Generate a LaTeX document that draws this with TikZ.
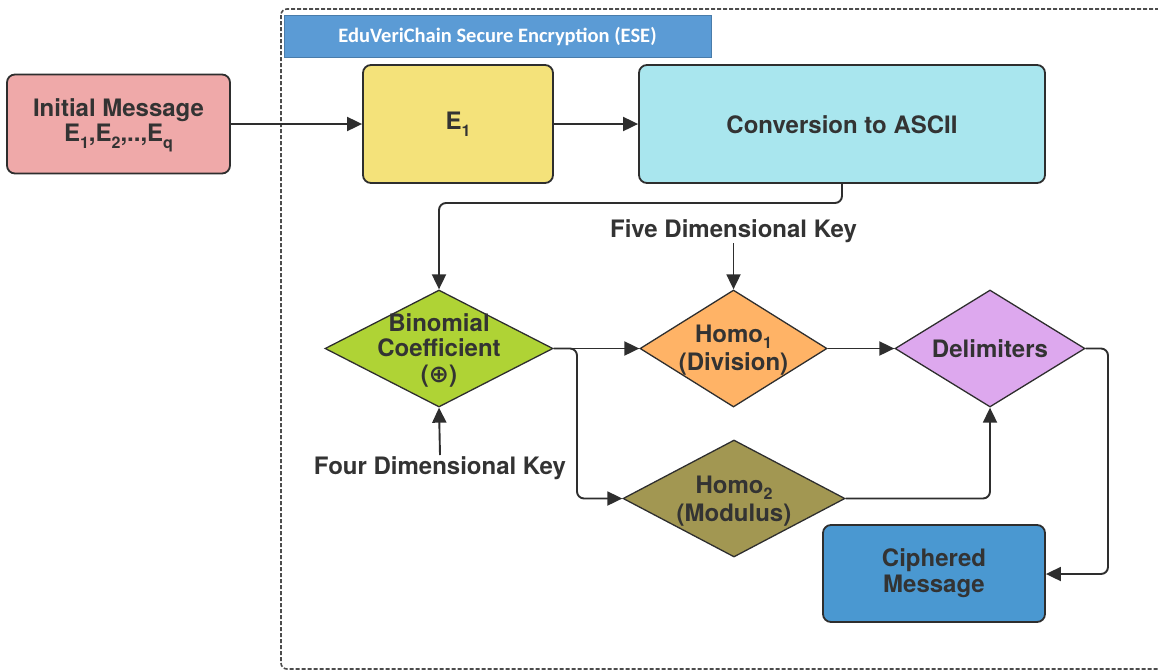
\documentclass[tikz,border=0pt]{standalone}
\usepackage{fontspec}
\setmainfont{TeX Gyre Heros}
\newfontfamily\titlefont{Carlito}
\newfontfamily\symfont{DejaVu Sans}
\usetikzlibrary{shapes.geometric,arrows.meta}
\definecolor{txt}{HTML}{333333}
\definecolor{edge}{HTML}{2E2E2E}
\definecolor{cInit}{HTML}{EFA9A9}
\definecolor{cEone}{HTML}{F4E27A}
\definecolor{cAscii}{HTML}{A9E6EE}
\definecolor{cBin}{HTML}{AFD335}
\definecolor{cHomoA}{HTML}{FFB366}
\definecolor{cHomoB}{HTML}{A29752}
\definecolor{cDelim}{HTML}{DDA8EE}
\definecolor{cCiph}{HTML}{4A98D1}
\definecolor{cTitle}{HTML}{5B9BD5}
\newcommand{\lowsub}[1]{\raisebox{-0.28em}{\fontsize{16}{16}\selectfont #1}}
\tikzset{
  box/.style={draw=edge, line width=1.8pt, rounded corners=8pt, inner sep=0pt},
  dia/.style={draw=edge, line width=1.3pt, diamond, inner sep=0pt, minimum width=228pt, minimum height=117pt},
  lbl/.style={text=txt, font=\fontsize{24}{25.5}\selectfont\bfseries, align=center, inner sep=0pt},
  conn/.style={draw=edge, line width=1.9pt, rounded corners=7pt, -{Triangle[length=15pt,width=14pt]}},
}
\begin{document}
\begin{tikzpicture}[x=1pt,y=-1pt]
\useasboundingbox (0,0) rectangle (1158,670);
\clip (0,0) rectangle (1158,670);
% frame
\draw[draw=black!70, line width=1.6pt, dash pattern=on 4pt off 2pt, rounded corners=6pt] (281,9) rectangle (1180,669);
% title
\node[fill=cTitle, draw=cTitle!80!black, line width=0.8pt, minimum width=427pt, minimum height=42pt, inner sep=0pt, text=white, font=\titlefont\fontsize{20.5}{22}\selectfont\bfseries] (title) at (497.5,36) {EduVeriChain Secure Encryption (ESE)};
% boxes
\node[box, fill=cInit, minimum width=223pt, minimum height=99pt] (init) at (118.5,124) {};
\node[lbl] (initT) at (118.5,125) {Initial Message\\E\lowsub{1},E\lowsub{2},..,E\lowsub{q}};
\node[box, fill=cEone, minimum width=190pt, minimum height=118pt] (eone) at (458,124) {};
\node[lbl] (eoneT) at (458,124) {E\lowsub{1}};
\node[box, fill=cAscii, minimum width=406pt, minimum height=118pt] (ascii) at (842,124) {};
\node[lbl] (asciiT) at (842,125) {Conversion to ASCII};
\node[box, fill=cCiph, minimum width=222pt, minimum height=97pt] (ciph) at (934,573.5) {};
\node[lbl] (ciphT) at (934,573) {Ciphered\\Message};
% diamonds
\node[dia, fill=cBin] (bin) at (439,348.5) {};
\node[lbl] (binT) at (439,350) {Binomial\\Coefficient\\({\symfont ⊕})};
\node[dia, fill=cHomoA, minimum width=187pt] (homoA) at (733.5,348.5) {};
\node[lbl] (homoAT) at (733.5,350) {Homo\lowsub{1}\\[3pt](Division)};
\node[dia, fill=cDelim, minimum width=190pt] (delim) at (990,348.5) {};
\node[lbl] (delimT) at (990,348.5) {Delimiters};
\node[dia, fill=cHomoB, minimum width=222pt] (homoB) at (734,498.5) {};
\node[lbl] (homoBT) at (734,501) {Homo\lowsub{2}\\[3pt](Modulus)};
% key labels
\node[lbl] (fivek) at (733.5,231) {Five Dimensional Key};
\node[lbl] (fourk) at (440,468) {Four Dimensional Key};
% connectors
\draw[conn] (init.east) -- (eone.west);
\draw[conn] (eone.east) -- (ascii.west);
\draw[conn] (ascii.south -| 842,0) -- (842,203) -- (439,203) -- (bin.north);
\draw[conn] (733.5,243) -- (homoA.north);
\draw[conn] (440,455) -- (bin.south);
\draw[conn] (bin.east) -- (homoA.west);
\draw[conn] (bin.east) -- (577,348.5) -- (577,498.5) -- (homoB.west);
\draw[conn] (homoA.east) -- (delim.west);
\draw[conn] (homoB.east) -- (990,498.5) -- (delim.south);
\draw[conn] (delim.east) -- (1108,348.5) -- (1108,574) -- (ciph.east |- 0,574);
\end{tikzpicture}
\end{document}
